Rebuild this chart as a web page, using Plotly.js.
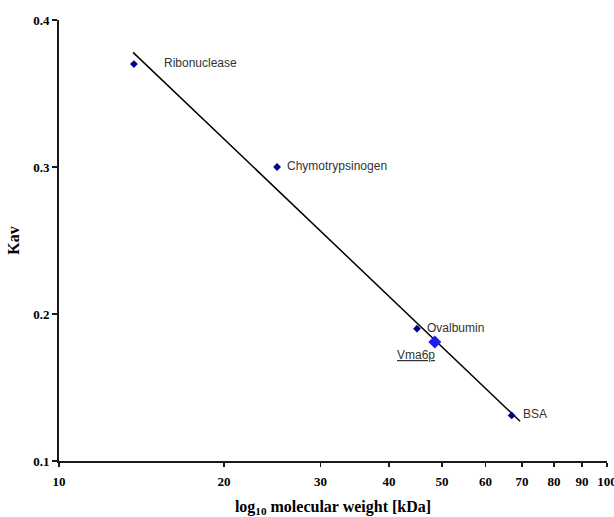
<!DOCTYPE html>
<html>
<head>
<meta charset="utf-8">
<script src="https://cdn.plot.ly/plotly-3.0.1.min.js"></script>
<style>html,body{margin:0;padding:0;background:#fff;}#chart{width:614px;height:517px;}</style>
</head>
<body>
<div id="chart"></div>
<script>
// Standard proteins
const proteins = ["Ribonuclease", "Chymotrypsinogen", "Ovalbumin", "BSA"];
const molWeight = [13.7, 25, 45, 67];
const kav = [0.370, 0.300, 0.190, 0.131];

// Unknown protein
const sampleName = ["Vma6p"];
const sampleWeight = [48.5];
const sampleKav = [0.181];

// Fitted line end points
const fitX = [13.65, 69.4];
const fitY = [0.378, 0.127];

// Axis ticks
const xTicks = [10, 20, 30, 40, 50, 60, 70, 80, 90, 100];
const xTickText = ["10", "20", "30", "40", "50", "60", "70", "80", "90", "100"];
const yTicks = [0.1, 0.2, 0.3, 0.4];
const yTickText = ["0.1", "0.2", "0.3", "0.4"];

const labelShift = [28, 8, 8, 9];

const traces = [
  {
    x: fitX, y: fitY, mode: "lines", type: "scatter",
    line: {color: "#000000", width: 1.5}, hoverinfo: "skip"
  },
  {
    x: molWeight, y: kav, mode: "markers", type: "scatter",
    marker: {symbol: "diamond", size: 6, color: "#00008b"}
  },
  {
    x: sampleWeight, y: sampleKav, mode: "markers", type: "scatter",
    marker: {symbol: "diamond", size: 10, color: "#1c1cf0"}
  }
];

const labelFont = {family: "Liberation Sans, Arial, sans-serif", size: 12, color: "#333333"};

const annotations = proteins.map((p, i) => ({
  x: Math.log10(molWeight[i]), y: kav[i], xref: "x", yref: "y",
  text: p, showarrow: false, xanchor: "left", yanchor: "middle",
  xshift: labelShift[i], yshift: 1,
  font: labelFont
}));
annotations.push({
  x: Math.log10(sampleWeight[0]), y: sampleKav[0], xref: "x", yref: "y",
  text: "<u>" + sampleName[0] + "</u>", showarrow: false, xanchor: "center", yanchor: "middle",
  xshift: -19, yshift: -13,
  font: labelFont
});

const serif = "Liberation Serif, Times New Roman, serif";

const layout = {
  width: 614, height: 517,
  margin: {l: 59, r: 7, t: 20, b: 56},
  paper_bgcolor: "#ffffff", plot_bgcolor: "#ffffff",
  showlegend: false,
  xaxis: {
    type: "log", range: [1, 2],
    tickvals: xTicks, ticktext: xTickText,
    showgrid: false, zeroline: false,
    showline: true, linecolor: "#1a1a1a", linewidth: 2,
    ticks: "outside", ticklen: 4, tickwidth: 1.5, tickcolor: "#1a1a1a",
    ticklabelstandoff: 3, ticklabeloverflow: "allow",
    tickfont: {family: serif, size: 13, color: "#000000", weight: "bold"},
    title: {text: "log<sub>10</sub> molecular weight [kDa]", standoff: 16,
      font: {family: serif, size: 16, color: "#000000", weight: "bold"}}
  },
  yaxis: {
    range: [0.1, 0.4],
    tickvals: yTicks, ticktext: yTickText,
    showgrid: false, zeroline: false,
    showline: true, linecolor: "#1a1a1a", linewidth: 2,
    ticks: "outside", ticklen: 5, tickwidth: 1.5, tickcolor: "#1a1a1a",
    ticklabeloverflow: "allow",
    tickfont: {family: serif, size: 13, color: "#000000", weight: "bold"},
    title: {text: "Kav", standoff: 10,
      font: {family: serif, size: 16, color: "#000000", weight: "bold"}}
  },
  annotations: annotations
};

Plotly.newPlot("chart", traces, layout, {displayModeBar: false, staticPlot: true});
</script>
</body>
</html>
